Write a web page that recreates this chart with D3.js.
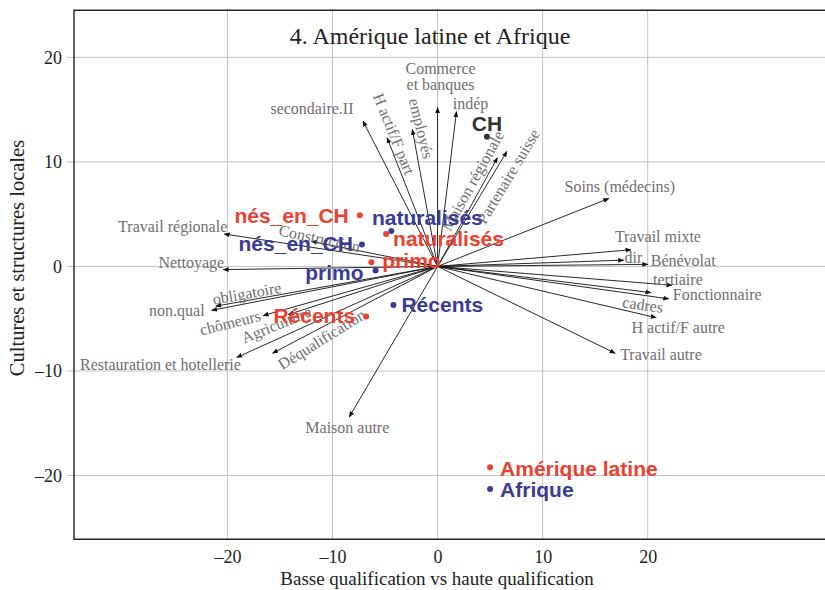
<!DOCTYPE html>
<html>
<head>
<meta charset="utf-8">
<script src="https://cdn.jsdelivr.net/npm/d3@7"></script>
<style>
  body { margin: 0; background: #fff; }
  svg { display: block; }
</style>
</head>
<body>
<svg id="chart" width="825" height="590"></svg>
<script>
// variable arrows (coordinates on the two axes)
const varNames = ['secondaire.II', 'H actif/F part', 'employés', 'Commerce\net banques', 'indép',
  'Maison régionale', 'Partenaire suisse', 'Soins (médecins)', 'Travail mixte', 'dir', 'Bénévolat',
  'tertiaire', 'Fonctionnaire', 'cadres', 'H actif/F autre', 'Travail autre', 'Maison autre',
  'Travail régionale', 'Construction', 'Nettoyage', 'obligatoire', 'non.qual', 'chômeurs',
  'Agriculture', 'Restauration et hotellerie', 'Déqualification'];
const varX = [-7.1, -4.8, -2.4, 0.0, 1.8, 5.7, 6.6, 16.3, 18.4, 17.7, 20.0,
  22.3, 22.0, 20.3, 20.8, 16.9, -8.4, -20.3, -12.0, -20.4, -21.1, -21.5, -16.6,
  -14.2, -19.1, -15.7];
const varY = [13.9, 12.3, 13.1, 15.2, 14.8, 10.4, 11.0, 6.5, 1.6, 0.6, 0.2,
  -1.8, -3.1, -2.5, -4.9, -8.3, -14.4, 3.1, 2.4, -0.3, -3.8, -4.2, -4.7,
  -4.6, -8.7, -8.3];

// group points
const grpNames = ['nés_en_CH', 'naturalisés', 'nés_en_CH', 'naturalisés', 'primo', 'primo',
  'Récents', 'Récents', 'CH', 'Amérique latine', 'Afrique'];
const grpX = [-7.4, -4.4, -7.2, -4.9, -6.3, -5.9, -4.2, -6.8, 4.7, 5.0, 5.0];
const grpY = [4.9, 3.4, 2.1, 3.1, 0.4, -0.4, -3.7, -4.8, 12.4, -19.2, -21.3];
const grpSet = ['am', 'af', 'af', 'am', 'am', 'af', 'af', 'am', 'ch', 'am', 'af'];

const ticks = [-20, -10, 0, 10, 20];

// label layout (anchor, pixel offsets from the arrow tip / point, rotation)
const varLab = [
  ['middle', -51, -13, 0], ['middle', 7, -4, 68], ['middle', 9, -1, 76], ['middle', 3, -31, 0], ['middle', 14, -8, 0],
  ['middle', -25, 23, -61], ['middle', 1, 25, -59], ['middle', 11, -12, 0], ['start', -16, -13, 0], ['start', 1, -3, 0], ['start', 3, -4, 0],
  ['middle', 6, -6, 0], ['start', 4, -4, 0], ['middle', -8, 12, 8], ['middle', 22, 10, 0], ['start', 5, 1, 0], ['middle', -2, 10, 0],
  ['end', 3, -8, 0], ['middle', 8, -3, 12], ['end', 1, -7, 0], ['middle', 31, -13, -10], ['end', -7, 0, 0], ['middle', -33, 7, -14],
  ['middle', -12, 10, -22], ['end', 4, 7, 0], ['middle', 49, -14, -32]];
const grpLab = [
  ['end', -11, 0], ['middle', 36, -13], ['end', -9, -1], ['start', 7, 5], ['start', 11, -2],
  ['end', -12, 2], ['start', 8, 0], ['end', -11, -1], ['middle', 0, -13], ['start', 10, 1], ['start', 10, 1]];
const colors = { am: '#ee3f2f', af: '#3b3b96', ch: '#333333' };

const svg = d3.select('#chart');
const serif = '"Liberation Serif", "Times New Roman", serif';
const sans = '"Liberation Sans", Arial, sans-serif';

const x = d3.scaleLinear().domain([-34.6, 38.3]).range([74, 840]);
const y = d3.scaleLinear().domain([-26.1, 24.5]).range([539.3, 10.3]);

svg.append('defs').append('marker')
  .attr('id', 'arr')
  .attr('viewBox', '0 0 10 10')
  .attr('refX', 9).attr('refY', 5)
  .attr('markerWidth', 6).attr('markerHeight', 6)
  .attr('markerUnits', 'userSpaceOnUse')
  .attr('orient', 'auto')
  .append('path')
  .attr('d', 'M0,1 L10,5 L0,9 z')
  .attr('fill', '#111');

// grid
const grid = svg.append('g');
grid.selectAll('.gx').data(ticks).enter().append('line')
  .attr('x1', d => x(d)).attr('x2', d => x(d))
  .attr('y1', y.range()[0]).attr('y2', y.range()[1])
  .attr('stroke', '#c2c2c2').attr('stroke-width', 1);
grid.selectAll('.gy').data(ticks).enter().append('line')
  .attr('y1', d => y(d)).attr('y2', d => y(d))
  .attr('x1', 67).attr('x2', 840)
  .attr('stroke', '#c2c2c2').attr('stroke-width', 1);

// axes
const xAxis = svg.append('g')
  .attr('transform', `translate(0,${y.range()[0]})`)
  .call(d3.axisBottom(x).tickValues(ticks).tickSize(0).tickPadding(11)
    .tickFormat(d => d < 0 ? '\u2013' + Math.abs(d) : d));
const yAxis = svg.append('g')
  .attr('transform', `translate(${x.range()[0]},0)`)
  .call(d3.axisLeft(y).tickValues(ticks).tickSize(0).tickPadding(12)
    .tickFormat(d => d < 0 ? '\u2013' + Math.abs(d) : d));
[xAxis, yAxis].forEach(a => {
  a.select('.domain').remove();
  a.selectAll('text').attr('font-family', serif).attr('font-size', 18).attr('fill', '#222');
});

// frame (left, top, bottom)
svg.append('path')
  .attr('d', `M840,${y.range()[1]} H${x.range()[0]} V${y.range()[0]} H840`)
  .attr('fill', 'none').attr('stroke', '#222').attr('stroke-width', 1.4);

svg.append('text')
  .attr('x', 437).attr('y', 585)
  .attr('text-anchor', 'middle')
  .attr('font-family', serif).attr('font-size', 19).attr('fill', '#222')
  .text('Basse qualification vs haute qualification');
svg.append('text')
  .attr('transform', 'translate(24,258) rotate(-90)')
  .attr('text-anchor', 'middle')
  .attr('font-family', serif).attr('font-size', 20.5).attr('fill', '#222')
  .text('Cultures et structures locales');

svg.append('text')
  .attr('x', 430).attr('y', 44)
  .attr('text-anchor', 'middle')
  .attr('font-family', serif).attr('font-size', 24).attr('fill', '#222')
  .text('4. Amérique latine et Afrique');

// arrows
const vars = varNames.map((n, i) => ({ n, vx: varX[i], vy: varY[i], lab: varLab[i] }));
svg.append('g').selectAll('line').data(vars).enter().append('line')
  .attr('x1', x(0)).attr('y1', y(0))
  .attr('x2', d => x(d.vx)).attr('y2', d => y(d.vy))
  .attr('stroke', '#111').attr('stroke-width', 0.9)
  .attr('marker-end', 'url(#arr)');

const vl = svg.append('g').selectAll('text').data(vars).enter().append('text')
  .attr('transform', d => `translate(${x(d.vx) + d.lab[1]},${y(d.vy) + d.lab[2]}) rotate(${d.lab[3]})`)
  .attr('text-anchor', d => d.lab[0])
  .attr('font-family', serif).attr('font-size', 16).attr('fill', '#707070');
vl.each(function(d) {
  const lines = d.n.split('\n');
  const t = d3.select(this);
  lines.forEach((s, k) => {
    t.append('tspan').attr('x', 0)
      .attr('dy', k === 0 ? (0.35 - (lines.length - 1) * 0.5) + 'em' : '1em')
      .text(s);
  });
});

// group points
const grps = grpNames.map((n, i) => ({ n, gx: grpX[i], gy: grpY[i], c: colors[grpSet[i]], lab: grpLab[i] }));
const gg = svg.append('g');
gg.selectAll('circle').data(grps).enter().append('circle')
  .attr('cx', d => x(d.gx)).attr('cy', d => y(d.gy)).attr('r', 3)
  .attr('fill', d => d.c);
gg.selectAll('text').data(grps).enter().append('text')
  .attr('x', d => x(d.gx) + d.lab[1]).attr('y', d => y(d.gy) + d.lab[2])
  .attr('dy', '0.35em')
  .attr('text-anchor', d => d.lab[0])
  .attr('font-family', sans).attr('font-weight', 'bold').attr('font-size', 21)
  .attr('fill', d => d.c)
  .text(d => d.n);
</script>
</body>
</html>
